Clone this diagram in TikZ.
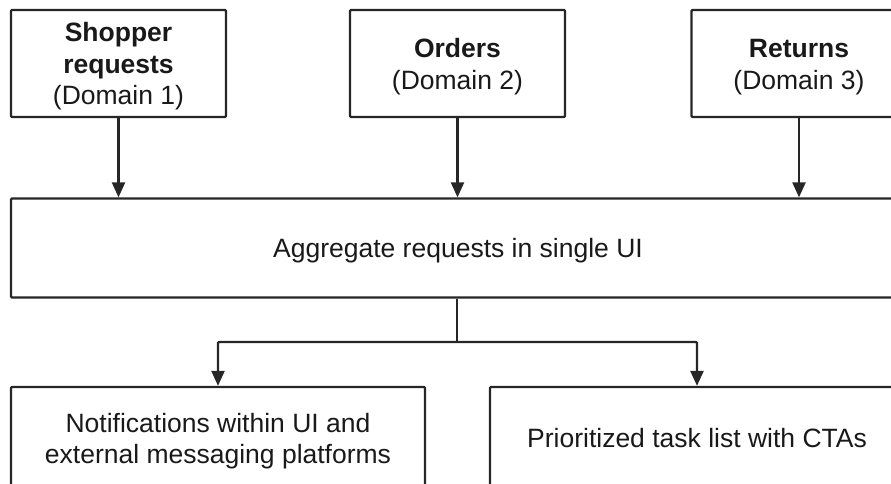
\documentclass[tikz,border=0pt]{standalone}
\usepackage{fontspec}
\setmainfont{Liberation Sans}
\usetikzlibrary{arrows.meta}
% centred stack of lines, set a little below the geometric centre
\newcommand\boxtext[1]{\raisebox{-3.5pt}[\height][\depth]{\begin{tabular}{@{}c@{}}#1\end{tabular}}}
\begin{document}
\begin{tikzpicture}[x=1pt,y=1pt,
  box/.style={draw=black!85, line width=2.3pt, rounded corners=1pt,
    inner sep=0pt, font=\fontsize{26.5}{31.5}\selectfont, text=black!90},
  arr/.style={draw=black!85, line width=2.3pt, -{Triangle[width=13pt,length=15pt]}},
  link/.style={draw=black!85, line width=2.3pt}]
  \useasboundingbox (0,0) rectangle (891,-484);
  \clip (0,0) rectangle (891,-484);

  % source domains
  \node[box, minimum width=215, minimum height=107] (shop) at (118.5,-63.5)
    {\boxtext{\textbf{Shopper}\\\textbf{requests}\\(Domain 1)}};
  \node[box, minimum width=215, minimum height=107] (orders) at (457.5,-63.5)
    {\boxtext{\textbf{Orders}\\(Domain 2)}};
  \node[box, minimum width=215, minimum height=107] (returns) at (799,-63.5)
    {\boxtext{\textbf{Returns}\\(Domain 3)}};

  % aggregation
  \node[box, minimum width=894, minimum height=99] (agg) at (458,-248)
    {\boxtext{Aggregate requests in single UI}};

  % outputs
  \node[box, minimum width=414, minimum height=102] (notif) at (218,-438)
    {\boxtext{Notifications within UI and\\external messaging platforms}};
  \node[box, minimum width=414, minimum height=102] (tasks) at (697,-438)
    {\boxtext{Prioritized task list with CTAs}};

  % connectors
  \draw[arr] (shop.south) -- (shop.south |- agg.north);
  \draw[arr] (orders.south) -- (orders.south |- agg.north);
  \draw[arr] (returns.south) -- (returns.south |- agg.north);

  \coordinate (split) at (457,-342);
  \draw[link] (split |- agg.south) -- (split);
  \draw[arr, rounded corners=1pt] (split) -| (notif.north);
  \draw[arr, rounded corners=1pt] (split) -| (tasks.north);
\end{tikzpicture}
\end{document}
